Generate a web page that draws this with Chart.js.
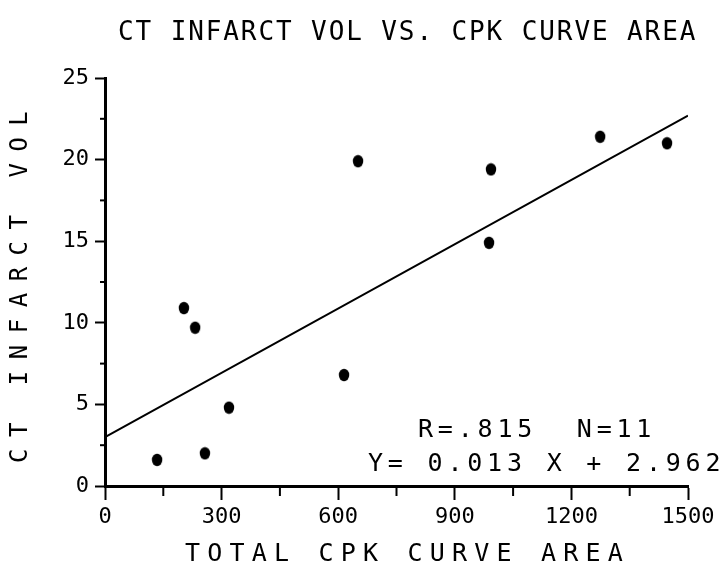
<!DOCTYPE html>
<html>
<head>
<meta charset="utf-8">
<script src="https://cdn.jsdelivr.net/npm/chart.js@4"></script>
<style>
  html, body { margin: 0; padding: 0; background: #fff; }
  #wrap { width: 722px; height: 568px; }
</style>
</head>
<body>
<div id="wrap"><canvas id="ctChart" width="722" height="568"></canvas></div>
<script>
// Data
const cpkArea = [134, 203, 232, 257, 319, 615, 651, 988, 993, 1274, 1446];
const infarctVol = [1.6, 10.9, 9.7, 2.0, 4.8, 6.8, 19.9, 14.9, 19.4, 21.4, 21.0];

// Regression line end points (as drawn)
const fitX = [0, 1500];
const fitY = [3.0, 22.7];

const xMinorTicks = [150, 450, 750, 1050, 1350];
const yMinorTicks = [2.5, 7.5, 12.5, 17.5, 22.5];

const titleText = "CT INFARCT VOL VS. CPK CURVE AREA";
const xTitleText = "TOTAL CPK CURVE AREA";
const yTitleText = "CT INFARCT VOL";
const statLines = ["R=.815  N=11", "Y= 0.013 X + 2.962"];

const FONT = "'DejaVu Sans Mono', monospace";

// slightly tall dot, like the plotter marks
const dot = document.createElement("canvas");
dot.width = 12;
dot.height = 14;
const dctx = dot.getContext("2d");
dctx.fillStyle = "#000";
dctx.beginPath();
dctx.ellipse(6, 7, 5.2, 6.2, 0, 0, Math.PI * 2);
dctx.fill();

// Draws minor ticks and all the plotter style text
const plotterExtras = {
  id: "plotterExtras",
  afterDraw(chart) {
    const ctx = chart.ctx;
    const xs = chart.scales.x;
    const ys = chart.scales.y;
    const area = chart.chartArea;

    ctx.save();
    ctx.strokeStyle = "#000";
    ctx.lineWidth = 2;
    xMinorTicks.forEach(v => {
      const px = xs.getPixelForValue(v);
      ctx.beginPath();
      ctx.moveTo(px, area.bottom);
      ctx.lineTo(px, area.bottom + 10);
      ctx.stroke();
    });
    yMinorTicks.forEach(v => {
      const py = ys.getPixelForValue(v);
      ctx.beginPath();
      ctx.moveTo(area.left, py);
      ctx.lineTo(area.left - 5, py);
      ctx.stroke();
    });

    ctx.fillStyle = "#000";
    ctx.textBaseline = "alphabetic";
    ctx.textAlign = "left";

    // title
    ctx.font = "26px " + FONT;
    ctx.letterSpacing = "1.9px";
    ctx.fillText(titleText, 118, 40);

    // x axis title
    ctx.font = "25px " + FONT;
    ctx.letterSpacing = "7.2px";
    ctx.fillText(xTitleText, 185, 561);

    // y axis title
    ctx.save();
    ctx.translate(27, 463);
    ctx.rotate(-Math.PI / 2);
    ctx.font = "24px " + FONT;
    ctx.letterSpacing = "11.5px";
    ctx.fillText(yTitleText, 0, 0);
    ctx.restore();

    // stats
    ctx.font = "25px " + FONT;
    ctx.letterSpacing = "4.8px";
    ctx.fillText(statLines[0], 418, 437);
    ctx.fillText(statLines[1], 368, 471);
    ctx.restore();
  }
};

const ctx = document.getElementById("ctChart").getContext("2d");
new Chart(ctx, {
  type: "scatter",
  data: {
    datasets: [{
      label: "CT infarct vol",
      data: cpkArea.map((x, i) => ({ x: x, y: infarctVol[i] })),
      backgroundColor: "#000",
      borderWidth: 0,
      pointStyle: dot,
      pointRadius: 6,
      pointHoverRadius: 6
    }, {
      type: "line",
      label: "fit",
      data: fitX.map((x, i) => ({ x: x, y: fitY[i] })),
      borderColor: "#000",
      borderWidth: 2,
      pointRadius: 0,
      fill: false,
      showLine: true
    }]
  },
  options: {
    responsive: false,
    animation: false,
    events: [],
    layout: { padding: { top: 78, right: 34, bottom: 0, left: 0 } },
    plugins: {
      legend: { display: false },
      tooltip: { enabled: false },
      title: { display: false }
    },
    scales: {
      x: {
        type: "linear",
        min: 0,
        max: 1500,
        afterFit: scale => { scale.height = 82; },
        border: { display: true, color: "#000", width: 3 },
        grid: { drawOnChartArea: false, drawTicks: true, tickLength: 14, tickWidth: 2, tickColor: "#000" },
        ticks: {
          stepSize: 300, color: "#000", padding: 4, maxRotation: 0,
          font: { family: FONT, size: 22 },
          callback: v => String(v)
        }
      },
      y: {
        min: 0,
        max: 25,
        afterFit: scale => { scale.width = 105; },
        border: { display: true, color: "#000", width: 3 },
        grid: { drawOnChartArea: false, drawTicks: true, tickLength: 10, tickWidth: 2, tickColor: "#000" },
        ticks: {
          stepSize: 5, color: "#000", padding: 6,
          font: { family: FONT, size: 22 },
          callback: v => String(v)
        }
      }
    }
  },
  plugins: [plotterExtras]
});
</script>
</body>
</html>
